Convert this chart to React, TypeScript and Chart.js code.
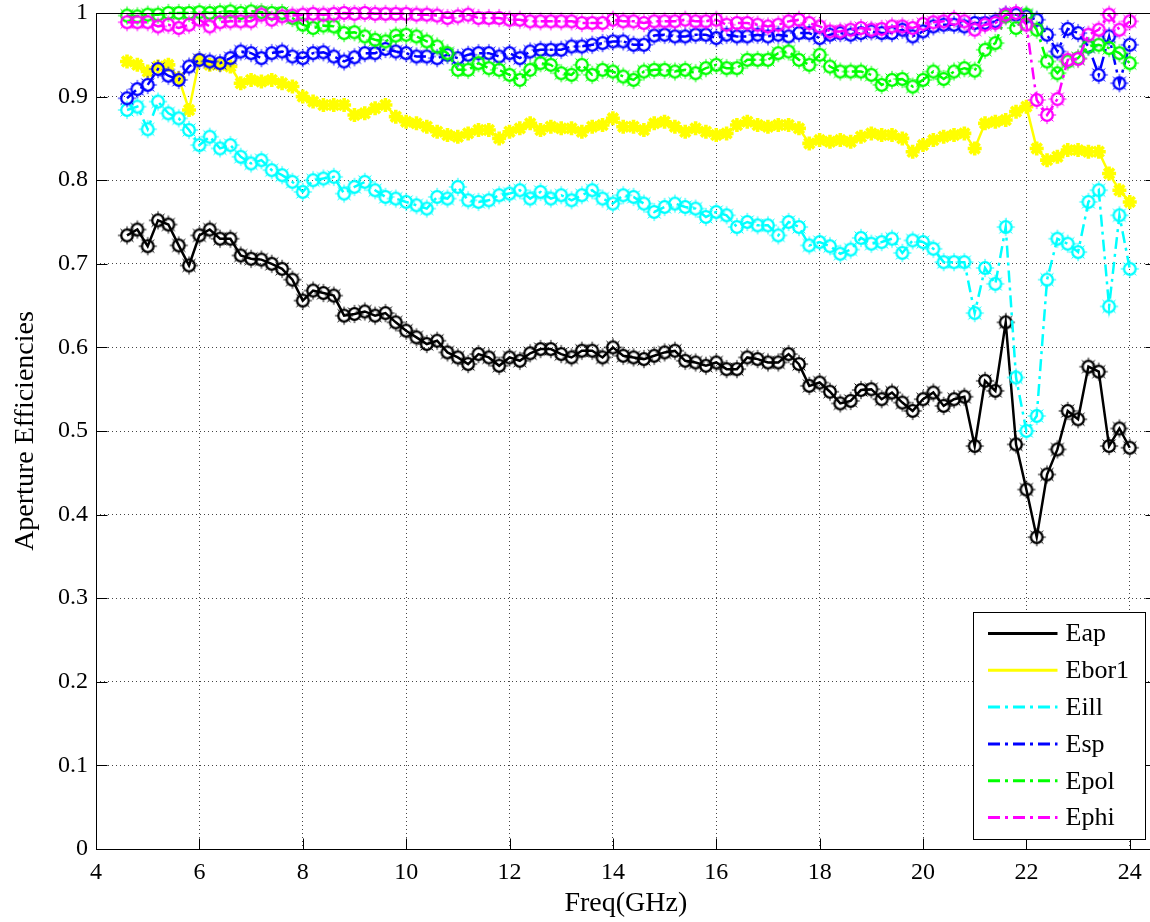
import React, { useEffect, useRef } from 'react';
import { Chart, registerables } from 'chart.js';

Chart.register(...registerables);

const freq = [
  4.6, 4.8, 5.0, 5.2, 5.4, 5.6, 5.8, 6.0, 6.2, 6.4,
  6.6, 6.8, 7.0, 7.2, 7.4, 7.6, 7.8, 8.0, 8.2, 8.4,
  8.6, 8.8, 9.0, 9.2, 9.4, 9.6, 9.8, 10.0, 10.2, 10.4,
  10.6, 10.8, 11.0, 11.2, 11.4, 11.6, 11.8, 12.0, 12.2, 12.4,
  12.6, 12.8, 13.0, 13.2, 13.4, 13.6, 13.8, 14.0, 14.2, 14.4,
  14.6, 14.8, 15.0, 15.2, 15.4, 15.6, 15.8, 16.0, 16.2, 16.4,
  16.6, 16.8, 17.0, 17.2, 17.4, 17.6, 17.8, 18.0, 18.2, 18.4,
  18.6, 18.8, 19.0, 19.2, 19.4, 19.6, 19.8, 20.0, 20.2, 20.4,
  20.6, 20.8, 21.0, 21.2, 21.4, 21.6, 21.8, 22.0, 22.2, 22.4,
  22.6, 22.8, 23.0, 23.2, 23.4, 23.6, 23.8, 24.0,
];

const eap = [
  0.734, 0.741, 0.721, 0.752, 0.747, 0.722, 0.698, 0.734, 0.741, 0.730,
  0.730, 0.710, 0.706, 0.705, 0.700, 0.694, 0.681, 0.656, 0.668, 0.665,
  0.662, 0.638, 0.640, 0.643, 0.638, 0.641, 0.630, 0.620, 0.612, 0.604,
  0.608, 0.594, 0.588, 0.580, 0.592, 0.588, 0.578, 0.588, 0.584, 0.593,
  0.598, 0.598, 0.592, 0.588, 0.596, 0.596, 0.588, 0.600, 0.590, 0.588,
  0.586, 0.590, 0.594, 0.596, 0.584, 0.582, 0.578, 0.582, 0.574, 0.574,
  0.588, 0.586, 0.582, 0.582, 0.592, 0.580, 0.554, 0.558, 0.547, 0.533,
  0.536, 0.549, 0.550, 0.538, 0.546, 0.534, 0.524, 0.538, 0.546, 0.530,
  0.538, 0.541, 0.482, 0.560, 0.548, 0.630, 0.484, 0.430, 0.373, 0.448,
  0.478, 0.524, 0.514, 0.577, 0.571, 0.482, 0.503, 0.480,
];

const ebor1 = [
  0.942, 0.938, 0.930, 0.936, 0.938, 0.922, 0.884, 0.944, 0.938, 0.938,
  0.936, 0.916, 0.920, 0.918, 0.920, 0.916, 0.912, 0.900, 0.894, 0.890,
  0.890, 0.890, 0.878, 0.880, 0.886, 0.890, 0.876, 0.870, 0.868, 0.864,
  0.858, 0.854, 0.852, 0.856, 0.860, 0.860, 0.850, 0.858, 0.862, 0.868,
  0.860, 0.864, 0.862, 0.862, 0.858, 0.864, 0.866, 0.874, 0.864, 0.864,
  0.860, 0.868, 0.870, 0.864, 0.858, 0.862, 0.858, 0.854, 0.856, 0.866,
  0.870, 0.866, 0.864, 0.866, 0.866, 0.862, 0.844, 0.848, 0.846, 0.848,
  0.846, 0.852, 0.856, 0.854, 0.854, 0.850, 0.834, 0.842, 0.848, 0.852,
  0.854, 0.856, 0.838, 0.868, 0.870, 0.872, 0.882, 0.888, 0.838, 0.824,
  0.828, 0.836, 0.836, 0.834, 0.834, 0.808, 0.788, 0.774,
];

const eill = [
  0.884, 0.888, 0.861, 0.894, 0.880, 0.874, 0.860, 0.842, 0.852, 0.838,
  0.842, 0.828, 0.820, 0.824, 0.812, 0.806, 0.798, 0.786, 0.800, 0.802,
  0.804, 0.784, 0.792, 0.798, 0.788, 0.780, 0.778, 0.774, 0.770, 0.766,
  0.780, 0.778, 0.792, 0.776, 0.774, 0.776, 0.782, 0.784, 0.788, 0.778,
  0.786, 0.778, 0.782, 0.776, 0.782, 0.788, 0.778, 0.772, 0.782, 0.780,
  0.772, 0.762, 0.768, 0.772, 0.768, 0.766, 0.756, 0.762, 0.758, 0.744,
  0.750, 0.746, 0.746, 0.734, 0.750, 0.744, 0.722, 0.726, 0.721, 0.712,
  0.717, 0.731, 0.724, 0.726, 0.730, 0.713, 0.728, 0.726, 0.718, 0.702,
  0.702, 0.702, 0.641, 0.695, 0.676, 0.744, 0.564, 0.500, 0.518, 0.681,
  0.730, 0.724, 0.714, 0.774, 0.788, 0.649, 0.758, 0.694,
];

const esp = [
  0.898, 0.909, 0.914, 0.933, 0.925, 0.920, 0.936, 0.944, 0.942, 0.940,
  0.946, 0.954, 0.952, 0.946, 0.952, 0.954, 0.948, 0.946, 0.952, 0.953,
  0.948, 0.942, 0.947, 0.952, 0.952, 0.957, 0.954, 0.952, 0.948, 0.948,
  0.946, 0.950, 0.946, 0.950, 0.952, 0.952, 0.948, 0.952, 0.946, 0.954,
  0.956, 0.956, 0.956, 0.960, 0.960, 0.962, 0.964, 0.966, 0.966, 0.962,
  0.962, 0.973, 0.974, 0.972, 0.972, 0.974, 0.974, 0.970, 0.974, 0.972,
  0.972, 0.974, 0.972, 0.974, 0.972, 0.976, 0.976, 0.970, 0.974, 0.976,
  0.974, 0.976, 0.978, 0.976, 0.976, 0.980, 0.972, 0.978, 0.984, 0.986,
  0.986, 0.984, 0.988, 0.988, 0.990, 0.998, 0.998, 0.996, 0.992, 0.974,
  0.954, 0.981, 0.976, 0.960, 0.926, 0.972, 0.916, 0.962,
];

const epol = [
  0.997, 0.996, 0.998, 0.998, 1.000, 1.000, 1.000, 1.001, 1.000, 1.001,
  1.002, 1.000, 1.002, 1.001, 1.000, 1.000, 0.994, 0.986, 0.982, 0.985,
  0.984, 0.976, 0.977, 0.972, 0.968, 0.966, 0.973, 0.974, 0.972, 0.966,
  0.960, 0.952, 0.932, 0.932, 0.940, 0.934, 0.932, 0.926, 0.920, 0.932,
  0.940, 0.938, 0.928, 0.926, 0.938, 0.926, 0.932, 0.930, 0.924, 0.920,
  0.930, 0.932, 0.932, 0.930, 0.932, 0.928, 0.934, 0.938, 0.934, 0.934,
  0.944, 0.944, 0.944, 0.952, 0.954, 0.944, 0.938, 0.950, 0.936, 0.930,
  0.930, 0.930, 0.926, 0.914, 0.920, 0.921, 0.912, 0.920, 0.930, 0.921,
  0.930, 0.934, 0.931, 0.956, 0.964, 0.996, 0.982, 0.998, 0.980, 0.942,
  0.928, 0.942, 0.946, 0.960, 0.962, 0.958, 0.952, 0.940,
];

const ephi = [
  0.989, 0.989, 0.989, 0.984, 0.986, 0.982, 0.986, 0.992, 0.984, 0.989,
  0.990, 0.990, 0.990, 0.998, 0.992, 0.996, 0.997, 0.998, 0.999, 0.998,
  0.999, 1.000, 0.999, 1.000, 0.999, 0.999, 0.999, 0.999, 0.998, 0.998,
  0.997, 0.994, 0.996, 0.998, 0.994, 0.994, 0.994, 0.992, 0.992, 0.990,
  0.990, 0.990, 0.990, 0.990, 0.988, 0.988, 0.988, 0.992, 0.990, 0.990,
  0.988, 0.990, 0.990, 0.990, 0.992, 0.990, 0.990, 0.992, 0.986, 0.988,
  0.988, 0.986, 0.984, 0.986, 0.990, 0.992, 0.988, 0.984, 0.978, 0.978,
  0.980, 0.982, 0.980, 0.981, 0.984, 0.984, 0.982, 0.987, 0.989, 0.990,
  0.993, 0.990, 0.980, 0.986, 0.988, 0.998, 1.000, 0.986, 0.896, 0.878,
  0.897, 0.944, 0.945, 0.974, 0.980, 0.998, 0.980, 0.990,
];

const seriesLabels = ['Eap', 'Ebor1', 'Eill', 'Esp', 'Epol', 'Ephi'];
const seriesValues = [eap, ebor1, eill, esp, epol, ephi];
const seriesColors = ['#000000', '#FFFF00', '#00FFFF', '#0000FF', '#00FF00', '#FF00FF'];
const seriesDashed = [false, false, true, true, true, true];
const seriesStar = [false, true, false, false, false, false];

const xTicks = [4, 6, 8, 10, 12, 14, 16, 18, 20, 22, 24];
const yTicks = [0, 0.1, 0.2, 0.3, 0.4, 0.5, 0.6, 0.7, 0.8, 0.9, 1];

const FONT = '"Liberation Serif", "Times New Roman", Times, serif';
const DASH = [12, 5, 3, 5];

function makeCircleMarker(color: string): HTMLCanvasElement {
  const r = 5.8;
  const lw = 2.3;
  const spike = 2.2;
  const size = 24;
  const c = document.createElement('canvas');
  c.width = size;
  c.height = size;
  const ctx = c.getContext('2d') as CanvasRenderingContext2D;
  const cx = size / 2;
  const cy = size / 2;
  ctx.strokeStyle = color;
  ctx.lineWidth = lw;
  ctx.beginPath();
  ctx.arc(cx, cy, r, 0, Math.PI * 2);
  ctx.stroke();
  ctx.lineWidth = 1;
  for (let k = 0; k < 8; k++) {
    const a = (k * Math.PI) / 4;
    ctx.beginPath();
    ctx.moveTo(cx + Math.cos(a) * r, cy + Math.sin(a) * r);
    ctx.lineTo(cx + Math.cos(a) * (r + lw / 2 + spike), cy + Math.sin(a) * (r + lw / 2 + spike));
    ctx.stroke();
  }
  return c;
}

const framePlugin = {
  id: 'matlabFrame',
  afterDraw(chart: any) {
    const { ctx, chartArea: a, scales } = chart;
    const xs = scales.x;
    const ys = scales.y;
    ctx.save();
    ctx.setLineDash([]);
    ctx.strokeStyle = '#000';
    ctx.lineWidth = 1;
    const L = Math.round(a.left) + 0.5;
    const T = Math.round(a.top) + 0.5;
    const R = Math.round(a.right) + 0.5;
    const B = Math.round(a.bottom) + 0.5;
    ctx.strokeRect(L, T, R - L, B - T);
    const TL = 11;
    const seg = (x1: number, y1: number, x2: number, y2: number) => {
      ctx.beginPath();
      ctx.moveTo(x1, y1);
      ctx.lineTo(x2, y2);
      ctx.stroke();
    };
    xs.ticks.forEach((t: any) => {
      const px = Math.round(xs.getPixelForValue(t.value)) + 0.5;
      seg(px, B, px, B - TL);
      seg(px, T, px, T + TL);
    });
    ys.ticks.forEach((t: any) => {
      const py = Math.round(ys.getPixelForValue(t.value)) + 0.5;
      seg(L, py, L + TL, py);
      seg(R, py, R - TL, py);
    });

    // legend box (south-east inside the axes)
    const w = 172;
    const h = 227;
    const bx = Math.round(a.right - 10.6 - w) + 0.5;
    const by = Math.round(a.bottom - 10 - h) + 0.5;
    ctx.fillStyle = '#fff';
    ctx.fillRect(bx, by, w, h);
    ctx.strokeStyle = '#000';
    ctx.lineWidth = 1;
    ctx.strokeRect(bx, by, w, h);
    ctx.font = '26px ' + FONT;
    ctx.textBaseline = 'middle';
    ctx.textAlign = 'left';
    chart.data.datasets.forEach((ds: any, i: number) => {
      const cy = by + 21 + i * 36.8;
      ctx.save();
      ctx.strokeStyle = ds.borderColor;
      ctx.lineWidth = 3;
      ctx.setLineDash(ds.borderDash || []);
      ctx.beginPath();
      ctx.moveTo(bx + 14.5, cy);
      ctx.lineTo(bx + 84, cy);
      ctx.stroke();
      ctx.restore();
      ctx.fillStyle = '#000';
      ctx.fillText(ds.label, bx + 92, cy + 1);
    });
    ctx.restore();
  },
};

export default function App() {
  const canvasRef = useRef<HTMLCanvasElement | null>(null);

  useEffect(() => {
    const canvas = canvasRef.current;
    if (!canvas) return;
    const datasets = seriesLabels.map((label, si) => {
      const vals = seriesValues[si];
      const color = seriesColors[si];
      const base: any = {
        label,
        data: freq.map((f, i) => ({ x: f, y: vals[i] })),
        borderColor: color,
        backgroundColor: color,
        borderWidth: 2.5,
        borderDash: seriesDashed[si] ? DASH : [],
        fill: false,
        tension: 0,
        clip: false,
        order: seriesLabels.length - si,
        pointHoverRadius: 6,
        pointHitRadius: 0,
      };
      if (seriesStar[si]) {
        base.pointStyle = 'star';
        base.pointRadius = 7;
        base.pointBorderWidth = 3.6;
        base.pointBorderColor = color;
        base.pointBackgroundColor = color;
      } else {
        base.pointStyle = makeCircleMarker(color);
        base.pointRadius = 6;
      }
      return base;
    });

    const chart = new Chart(canvas, {
      type: 'line',
      data: { datasets },
      options: {
        animation: false,
        responsive: false,
        maintainAspectRatio: false,
        events: [],
        layout: { autoPadding: false, padding: { top: 13, right: 4.4, left: 0, bottom: 0 } },
        plugins: {
          legend: { display: false },
          tooltip: { enabled: false },
        },
        scales: {
          x: {
            type: 'linear',
            min: 4,
            max: 24.5,
            afterFit: (scale: any) => {
              scale.height = 73;
              scale.paddingLeft = 0;
              scale.paddingRight = 0;
              scale.paddingTop = 0;
              scale.paddingBottom = 0;
            },
            afterBuildTicks: (scale: any) => {
              scale.ticks = xTicks.map((v) => ({ value: v }));
            },
            ticks: {
              stepSize: 2,
              includeBounds: false,
              autoSkip: false,
              maxRotation: 0,
              padding: 9,
              color: '#000',
              font: { family: FONT, size: 24 },
              callback: (v: any) => String(v),
            },
            grid: {
              display: true,
              drawTicks: false,
              drawOnChartArea: true,
              color: '#444',
              lineWidth: 1,
            },
            border: { display: false, dash: [1, 3] },
            title: {
              display: true,
              text: 'Freq(GHz)',
              color: '#000',
              font: { family: FONT, size: 28 },
              padding: { top: 0, bottom: 2 },
            },
          },
          y: {
            type: 'linear',
            min: 0,
            max: 1,
            afterFit: (scale: any) => {
              scale.width = 96;
              scale.paddingLeft = 0;
              scale.paddingRight = 0;
              scale.paddingTop = 0;
              scale.paddingBottom = 0;
            },
            afterBuildTicks: (scale: any) => {
              scale.ticks = yTicks.map((v) => ({ value: v }));
            },
            ticks: {
              stepSize: 0.1,
              autoSkip: false,
              padding: 8,
              color: '#000',
              font: { family: FONT, size: 24 },
              callback: (v: any) => String(Number(Number(v).toFixed(1))),
            },
            grid: {
              display: true,
              drawTicks: false,
              drawOnChartArea: true,
              color: '#444',
              lineWidth: 1,
            },
            border: { display: false, dash: [1, 3] },
            title: {
              display: true,
              text: 'Aperture Efficiencies',
              color: '#000',
              font: { family: FONT, size: 28 },
              padding: { top: 9, bottom: 0 },
            },
          },
        },
      },
      plugins: [framePlugin],
    } as any);

    return () => {
      chart.destroy();
    };
  }, []);

  return (
    <div
      style={{
        position: 'absolute',
        left: 0,
        top: 0,
        width: 1150,
        height: 922,
        overflow: 'hidden',
        background: '#fff',
      }}
    >
      <canvas ref={canvasRef} width={1160} height={922} style={{ display: 'block', width: 1160, height: 922 }} />
    </div>
  );
}
